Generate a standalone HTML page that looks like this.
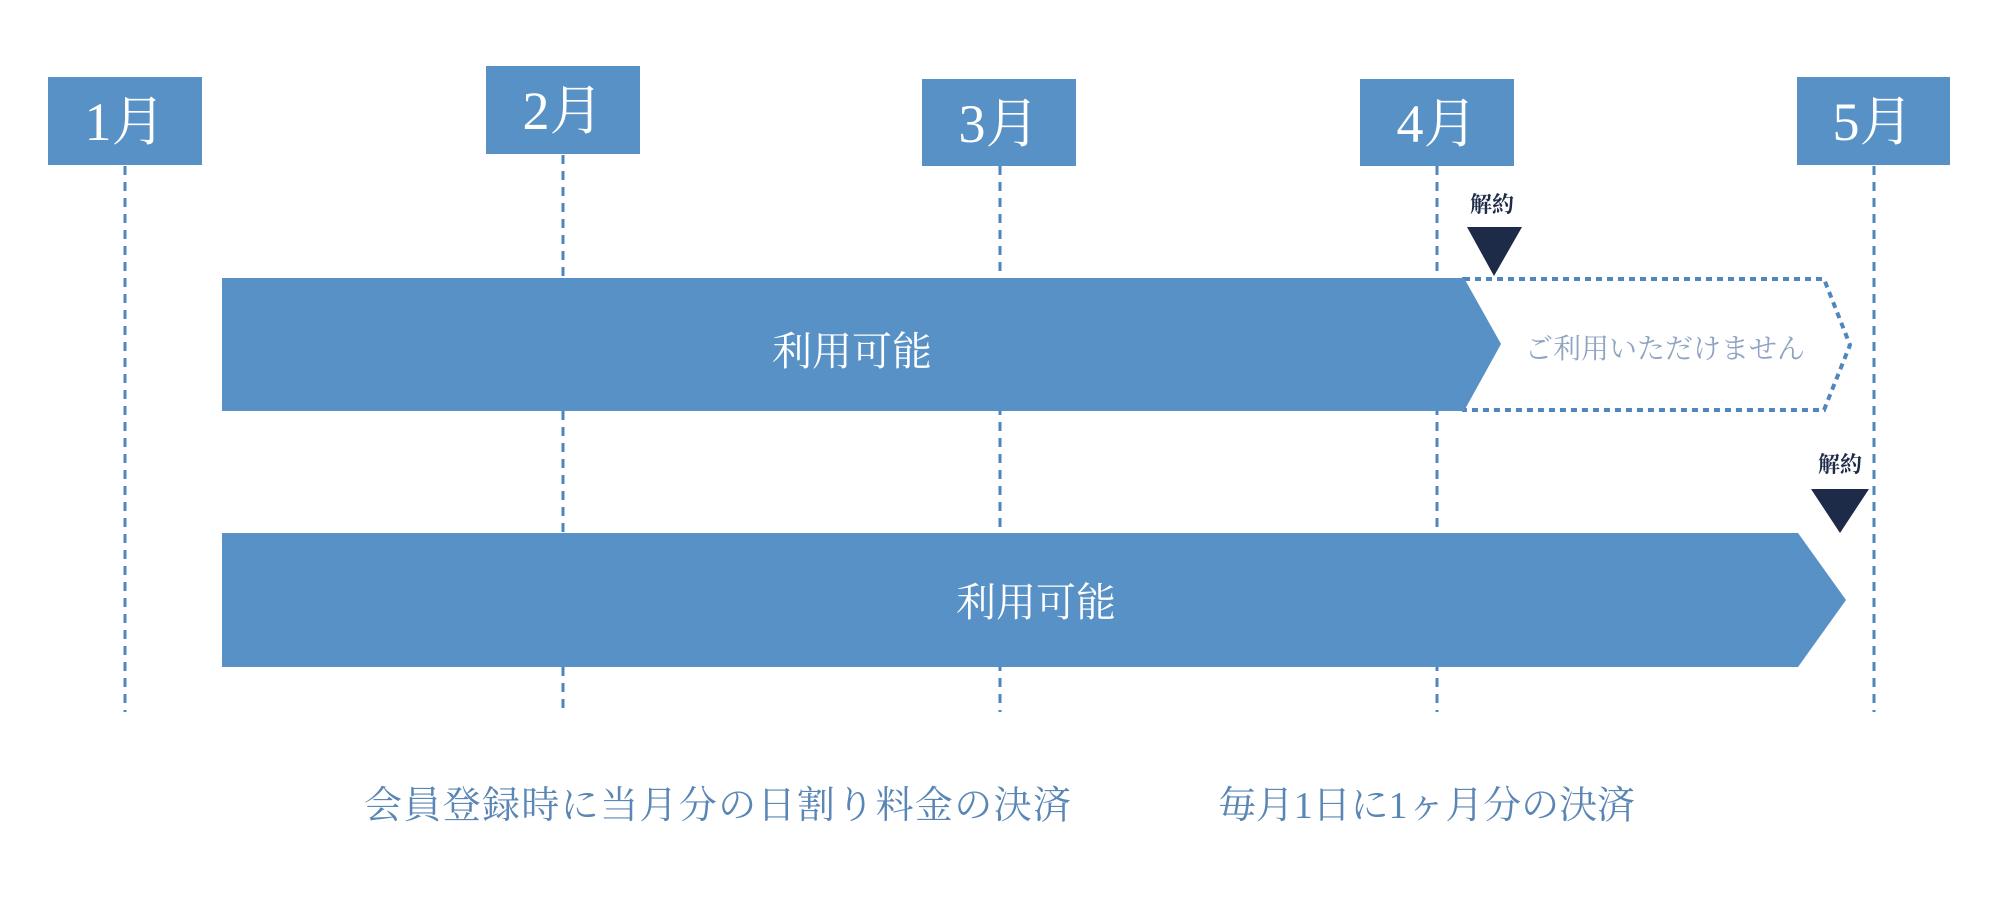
<!DOCTYPE html>
<html><head><meta charset="utf-8"><style>
html,body{margin:0;padding:0;background:#fff;}
svg{display:block;}
text{font-family:"Liberation Serif","Noto Serif CJK SC","Noto Serif CJK JP",serif;}
</style></head><body>
<svg width="2000" height="898" viewBox="0 0 2000 898" xmlns="http://www.w3.org/2000/svg">
<g stroke="#4f86bd" stroke-width="3" stroke-dasharray="9,7">
<line x1="125" y1="166" x2="125" y2="712"/>
<line x1="563" y1="155" x2="563" y2="712"/>
<line x1="1000" y1="166" x2="1000" y2="712"/>
<line x1="1437" y1="166" x2="1437" y2="712"/>
<line x1="1874" y1="166" x2="1874" y2="712"/>
</g>
<g fill="#5891c5">
<rect x="48" y="77" width="154" height="88"/>
<rect x="486" y="66" width="154" height="88"/>
<rect x="922" y="79" width="154" height="87"/>
<rect x="1360" y="79" width="154" height="87"/>
<rect x="1797" y="77" width="153" height="88"/>
</g>
<g fill="#fff" font-size="54" text-anchor="middle">
<text x="125" y="140">1月</text>
<text x="563" y="129">2月</text>
<text x="999" y="142">3月</text>
<text x="1437" y="142">4月</text>
<text x="1873" y="140">5月</text>
</g>
<polygon points="1464,279 1824,279 1850,345 1824,410 1464,410" fill="none" stroke="#4f86bd" stroke-width="4" stroke-dasharray="6,5"/>
<polygon points="222,278 1464,278 1501,344 1464,411 222,411" fill="#5891c5"/>
<polygon points="222,533 1798,533 1846,600 1798,667 222,667" fill="#5891c5"/>
<polygon points="1467,227 1522,227 1494,276" fill="#1d2a48"/>
<polygon points="1811,489 1869,489 1840,533" fill="#1d2a48"/>
<g fill="#1d2a48" font-size="22" text-anchor="middle" font-weight="bold">
<text x="1492" y="212">解約</text>
<text x="1840" y="472">解約</text>
</g>
<g fill="#fff" font-size="40" text-anchor="middle">
<text x="852" y="365">利用可能</text>
<text x="1036" y="616">利用可能</text>
</g>
<text x="1665" y="358" fill="#8fa4c2" font-size="28" text-anchor="middle">ご利用いただけません</text>
<g fill="#5a86b5" font-size="38">
<text x="364" y="818" textLength="707">会員登録時に当月分の日割り料金の決済</text>
<text x="1218" y="818" textLength="417">毎月1日に1ヶ月分の決済</text>
</g>
</svg>
</body></html>
